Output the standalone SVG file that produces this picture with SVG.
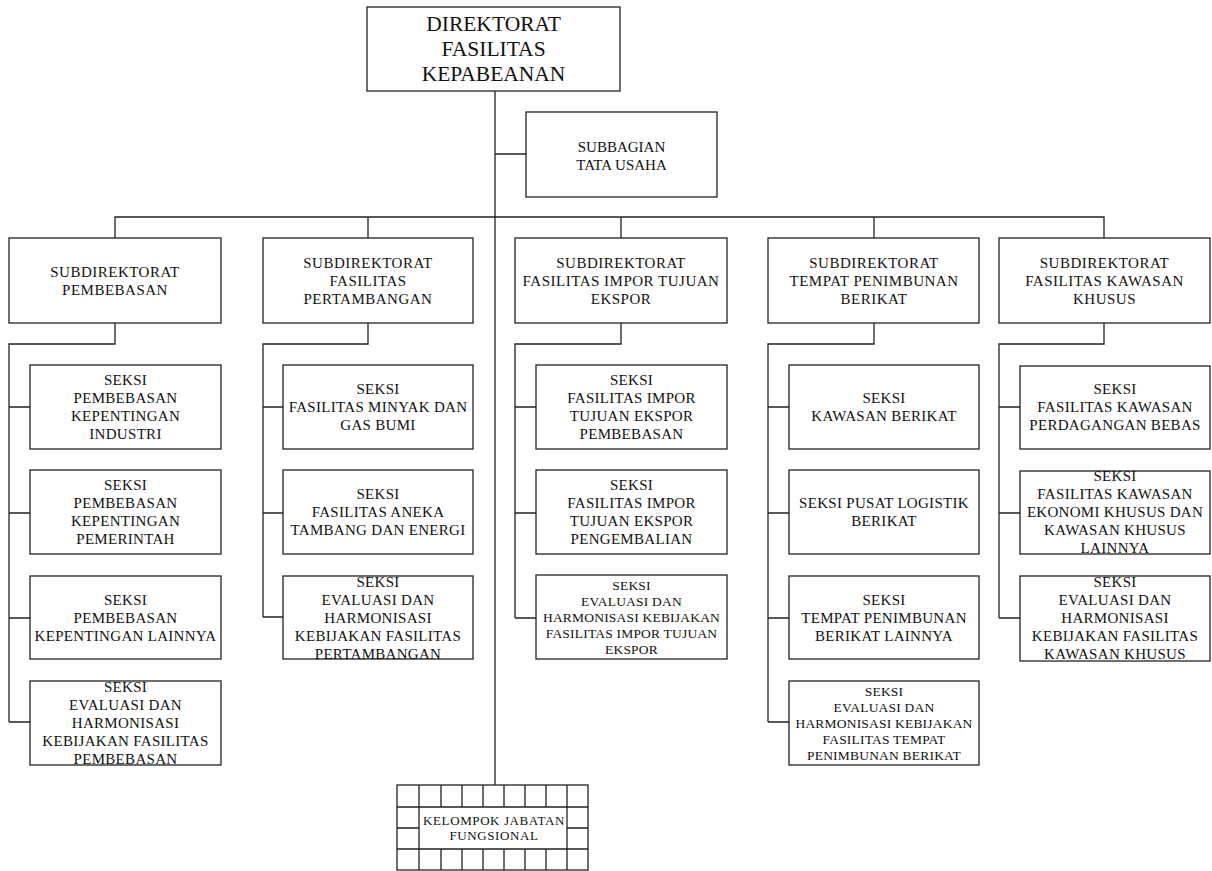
<svg xmlns="http://www.w3.org/2000/svg" width="1212" height="871" viewBox="0 0 1212 871">
<style>
rect{fill:#fff;stroke:#222;stroke-width:1.3}
.c path,.g path{fill:none;stroke:#222;stroke-width:1.3}
text{font-family:"Liberation Serif","Times New Roman",serif;font-size:15px;text-anchor:middle;fill:#111}
.sd{letter-spacing:0.5px}
.sk{letter-spacing:0.3px}
.sm{font-size:13.5px;letter-spacing:0.2px}
.top{font-size:21.5px}
.kf{font-size:13px;letter-spacing:0.6px}
</style>
<rect x="0" y="0" width="1212" height="871" style="fill:#fff;stroke:none"/>
<g class="c" id="connectors">
<path d="M495,91V785M495,154H526"/>
<path d="M115,238V217H1104V238M368,217V238M621,217V238M874,217V238"/>
<path d="M115,323V344H9V722M9,407H30M9,513H30M9,618H30M9,722H30"/>
<path d="M368,323V344H263V617M263,407H283M263,513H283M263,617H283"/>
<path d="M621,323V344H515V618M515,407H536M515,513H536M515,618H536"/>
<path d="M874,323V344H768V722M768,407H789M768,513H789M768,618H789M768,722H789"/>
<path d="M1104,323V344H999V618M999,407H1020M999,513H1020M999,618H1020"/>
</g>
<g id="direktorat"><rect x="367" y="7" width="253" height="84"/>
<text class="top" x="493.5"><tspan x="493.5" y="31">DIREKTORAT</tspan><tspan x="493.5" y="56">FASILITAS</tspan><tspan x="493.5" y="81">KEPABEANAN</tspan></text></g>
<g id="subbagian"><rect x="526" y="112" width="191" height="85"/>
<text><tspan x="621.5" y="152">SUBBAGIAN</tspan><tspan x="621.5" y="170">TATA USAHA</tspan></text></g>

<g id="sd1"><rect x="9" y="238" width="212" height="85"/>
<text class="sd"><tspan x="115" y="276.5">SUBDIREKTORAT</tspan><tspan x="115" y="294.5">PEMBEBASAN</tspan></text></g>
<g id="sd2"><rect x="263" y="238" width="210" height="85"/>
<text class="sd"><tspan x="368" y="267.5">SUBDIREKTORAT</tspan><tspan x="368" y="285.5">FASILITAS</tspan><tspan x="368" y="303.5">PERTAMBANGAN</tspan></text></g>
<g id="sd3"><rect x="515" y="238" width="212" height="85"/>
<text class="sd"><tspan x="621" y="267.5">SUBDIREKTORAT</tspan><tspan x="621" y="285.5">FASILITAS IMPOR TUJUAN</tspan><tspan x="621" y="303.5">EKSPOR</tspan></text></g>
<g id="sd4"><rect x="768" y="238" width="211" height="85"/>
<text class="sd"><tspan x="874" y="267.5">SUBDIREKTORAT</tspan><tspan x="874" y="285.5">TEMPAT PENIMBUNAN</tspan><tspan x="874" y="303.5">BERIKAT</tspan></text></g>
<g id="sd5"><rect x="999" y="238" width="211" height="85"/>
<text class="sd"><tspan x="1104.5" y="267.5">SUBDIREKTORAT</tspan><tspan x="1104.5" y="285.5">FASILITAS KAWASAN</tspan><tspan x="1104.5" y="303.5">KHUSUS</tspan></text></g>

<g id="s1a"><rect x="30" y="365" width="191" height="84"/>
<text class="sk"><tspan x="125.5" y="385">SEKSI</tspan><tspan x="125.5" y="403">PEMBEBASAN</tspan><tspan x="125.5" y="421">KEPENTINGAN</tspan><tspan x="125.5" y="439">INDUSTRI</tspan></text></g>
<g id="s1b"><rect x="30" y="470" width="191" height="84"/>
<text class="sk"><tspan x="125.5" y="490">SEKSI</tspan><tspan x="125.5" y="508">PEMBEBASAN</tspan><tspan x="125.5" y="526">KEPENTINGAN</tspan><tspan x="125.5" y="544">PEMERINTAH</tspan></text></g>
<g id="s1c"><rect x="30" y="576" width="191" height="83"/>
<text class="sk"><tspan x="125.5" y="604.5">SEKSI</tspan><tspan x="125.5" y="622.5">PEMBEBASAN</tspan><tspan x="125.5" y="640.5">KEPENTINGAN LAINNYA</tspan></text></g>
<g id="s1d"><rect x="30" y="681" width="191" height="84"/>
<text class="sk"><tspan x="125.5" y="692">SEKSI</tspan><tspan x="125.5" y="710">EVALUASI DAN</tspan><tspan x="125.5" y="728">HARMONISASI</tspan><tspan x="125.5" y="746">KEBIJAKAN FASILITAS</tspan><tspan x="125.5" y="764">PEMBEBASAN</tspan></text></g>

<g id="s2a"><rect x="283" y="365" width="190" height="84"/>
<text class="sk"><tspan x="378" y="394">SEKSI</tspan><tspan x="378" y="412">FASILITAS MINYAK DAN</tspan><tspan x="378" y="430">GAS BUMI</tspan></text></g>
<g id="s2b"><rect x="283" y="470" width="190" height="84"/>
<text class="sk"><tspan x="378" y="499">SEKSI</tspan><tspan x="378" y="517">FASILITAS ANEKA</tspan><tspan x="378" y="535">TAMBANG DAN ENERGI</tspan></text></g>
<g id="s2c"><rect x="283" y="576" width="190" height="83"/>
<text class="sk"><tspan x="378" y="586.5">SEKSI</tspan><tspan x="378" y="604.5">EVALUASI DAN</tspan><tspan x="378" y="622.5">HARMONISASI</tspan><tspan x="378" y="640.5">KEBIJAKAN FASILITAS</tspan><tspan x="378" y="658.5">PERTAMBANGAN</tspan></text></g>

<g id="s3a"><rect x="536" y="365" width="191" height="84"/>
<text class="sk"><tspan x="631.5" y="385">SEKSI</tspan><tspan x="631.5" y="403">FASILITAS IMPOR</tspan><tspan x="631.5" y="421">TUJUAN EKSPOR</tspan><tspan x="631.5" y="439">PEMBEBASAN</tspan></text></g>
<g id="s3b"><rect x="536" y="470" width="191" height="84"/>
<text class="sk"><tspan x="631.5" y="490">SEKSI</tspan><tspan x="631.5" y="508">FASILITAS IMPOR</tspan><tspan x="631.5" y="526">TUJUAN EKSPOR</tspan><tspan x="631.5" y="544">PENGEMBALIAN</tspan></text></g>
<g id="s3c"><rect x="536" y="575" width="191" height="84"/>
<text class="sm"><tspan x="631.5" y="589.5">SEKSI</tspan><tspan x="631.5" y="605.5">EVALUASI DAN</tspan><tspan x="631.5" y="621.5">HARMONISASI KEBIJAKAN</tspan><tspan x="631.5" y="637.5">FASILITAS IMPOR TUJUAN</tspan><tspan x="631.5" y="653.5">EKSPOR</tspan></text></g>

<g id="s4a"><rect x="789" y="365" width="190" height="84"/>
<text class="sk"><tspan x="884" y="403">SEKSI</tspan><tspan x="884" y="421">KAWASAN BERIKAT</tspan></text></g>
<g id="s4b"><rect x="789" y="470" width="190" height="84"/>
<text class="sk"><tspan x="884" y="508">SEKSI PUSAT LOGISTIK</tspan><tspan x="884" y="526">BERIKAT</tspan></text></g>
<g id="s4c"><rect x="789" y="576" width="190" height="83"/>
<text class="sk"><tspan x="884" y="604.5">SEKSI</tspan><tspan x="884" y="622.5">TEMPAT PENIMBUNAN</tspan><tspan x="884" y="640.5">BERIKAT LAINNYA</tspan></text></g>
<g id="s4d"><rect x="789" y="681" width="190" height="84"/>
<text class="sm"><tspan x="884" y="695.5">SEKSI</tspan><tspan x="884" y="711.5">EVALUASI DAN</tspan><tspan x="884" y="727.5">HARMONISASI KEBIJAKAN</tspan><tspan x="884" y="743.5">FASILITAS TEMPAT</tspan><tspan x="884" y="759.5">PENIMBUNAN BERIKAT</tspan></text></g>

<g id="s5a"><rect x="1020" y="366" width="190" height="83"/>
<text class="sk"><tspan x="1115" y="394">SEKSI</tspan><tspan x="1115" y="412">FASILITAS KAWASAN</tspan><tspan x="1115" y="430">PERDAGANGAN BEBAS</tspan></text></g>
<g id="s5b"><rect x="1020" y="471" width="190" height="83"/>
<text class="sk"><tspan x="1115" y="481">SEKSI</tspan><tspan x="1115" y="499">FASILITAS KAWASAN</tspan><tspan x="1115" y="517">EKONOMI KHUSUS DAN</tspan><tspan x="1115" y="535">KAWASAN KHUSUS</tspan><tspan x="1115" y="553">LAINNYA</tspan></text></g>
<g id="s5c"><rect x="1020" y="576" width="190" height="85"/>
<text class="sk"><tspan x="1115" y="587">SEKSI</tspan><tspan x="1115" y="605">EVALUASI DAN</tspan><tspan x="1115" y="623">HARMONISASI</tspan><tspan x="1115" y="641">KEBIJAKAN FASILITAS</tspan><tspan x="1115" y="659">KAWASAN KHUSUS</tspan></text></g>

<g id="kelompok" class="g"><rect x="397" y="785" width="191" height="85"/>
<path d="M397,807H588M397,849H588M397,828H419M567,828H588M419,785V870M567,785V870M441,785V807M462,785V807M483,785V807M504,785V807M525,785V807M546,785V807M441,849V870M462,849V870M483,849V870M504,849V870M525,849V870M546,849V870"/>
<text class="kf"><tspan x="494" y="825">KELOMPOK JABATAN</tspan><tspan x="494" y="840">FUNGSIONAL</tspan></text></g>
</svg>
